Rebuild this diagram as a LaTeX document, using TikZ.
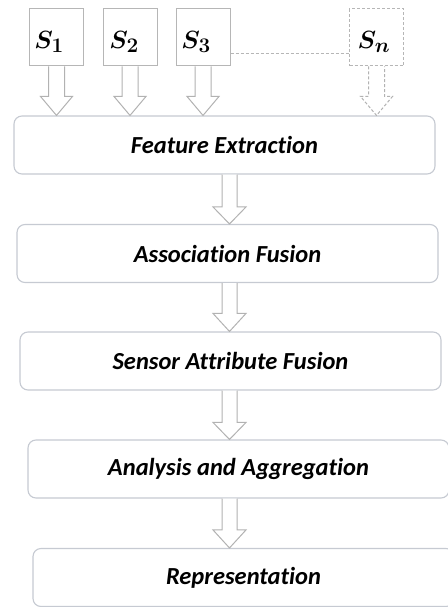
\documentclass[tikz,border=0pt]{standalone}
\usepackage{fontspec}
\setmainfont[Ligatures={NoCommon}]{Carlito}
\usetikzlibrary{calc}

\definecolor{boxline}{HTML}{C6CAD2}
\definecolor{arrowline}{HTML}{B2B2B2}
\definecolor{sensorline}{HTML}{B6B6B6}

\tikzset{
  stage/.style={draw=boxline, line width=1.1pt, rounded corners=8pt, fill=white,
    minimum width=421pt, minimum height=58pt, inner sep=0pt,
    font=\fontsize{24.5}{28}\selectfont\bfseries\itshape},
  sensor/.style={draw=sensorline, line width=1pt, fill=white,
    minimum width=54pt, minimum height=57pt, inner sep=0pt},
  sensordash/.style={sensor, dashed, dash pattern=on 3pt off 2pt},
  sensorlabel/.style={inner sep=0pt, font=\fontsize{29}{32}\selectfont\boldmath},
  blockarrow/.style={draw=arrowline, line width=1pt, fill=white, line join=miter},
}

% hollow block arrow from point #2 down to point #3; #4 = half shaft, #5 = half head, #6 = head length
\newcommand{\hollowarrow}[6][]{%
  \draw[blockarrow,#1] let \p1=(#2), \p2=(#3) in
    (\x1-#4,\y1) -- (\x1-#4,\y2+#6) -- (\x1-#5,\y2+#6) -- (\x1,\y2)
    -- (\x1+#5,\y2+#6) -- (\x1+#4,\y2+#6) -- (\x1+#4,\y1);
}

\begin{document}
\begin{tikzpicture}[x=1pt,y=-1pt]
  \useasboundingbox (0,0) rectangle (447,607);

  % processing stages
  \node[stage] (fe)  at (224.5,145)   {Feature Extraction};
  \node[stage] (af)  at (227.5,253.5) {Association Fusion};
  \node[stage] (saf) at (230.5,361)   {Sensor Attribute Fusion};
  \node[stage] (aa)  at (238.5,469)   {Analysis and Aggregation};
  \node[stage] (rep) at (243.5,577.5) {Representation};

  % sensors
  \node[sensor] (s1) at (56.5,37.5) {};
  \node[sensor] (s2) at (130,37.5)  {};
  \node[sensor] (s3) at (203,37.5)  {};
  \node[sensordash] (sn) at (376.5,37.5) {};
  \node[sensorlabel] (s1t) at (49,42)    {$S_1$};
  \node[sensorlabel] (s2t) at (124,42)   {$S_2$};
  \node[sensorlabel] (s3t) at (196,42)   {$S_3$};
  \node[sensorlabel] (snt) at (374,42)   {$S_n$};
  \draw[sensorline, line width=0.8pt, dash pattern=on 3pt off 2pt]
    ([yshift=-15.5pt]s3.east) -- ([yshift=-15.5pt]sn.west);

  % sensor inputs into feature extraction
  \foreach \s in {s1,s2,s3}{
    \hollowarrow{\s.south}{fe.north -| \s.south}{8pt}{16pt}{19pt}
  }
  \hollowarrow[dash pattern=on 3pt off 2pt]{sn.south}{fe.north -| sn.south}{8pt}{16pt}{19pt}

  % flow between stages
  \coordinate (axis) at (229.5,0);
  \hollowarrow{fe.south -| axis}{af.north -| axis}{7.5pt}{16.5pt}{17pt}
  \hollowarrow{af.south -| axis}{saf.north -| axis}{7.5pt}{16.5pt}{18pt}
  \hollowarrow{saf.south -| axis}{aa.north -| axis}{7.5pt}{16.5pt}{17pt}
  \hollowarrow{aa.south -| axis}{rep.north -| axis}{7.5pt}{16.5pt}{18pt}
\end{tikzpicture}
\end{document}
